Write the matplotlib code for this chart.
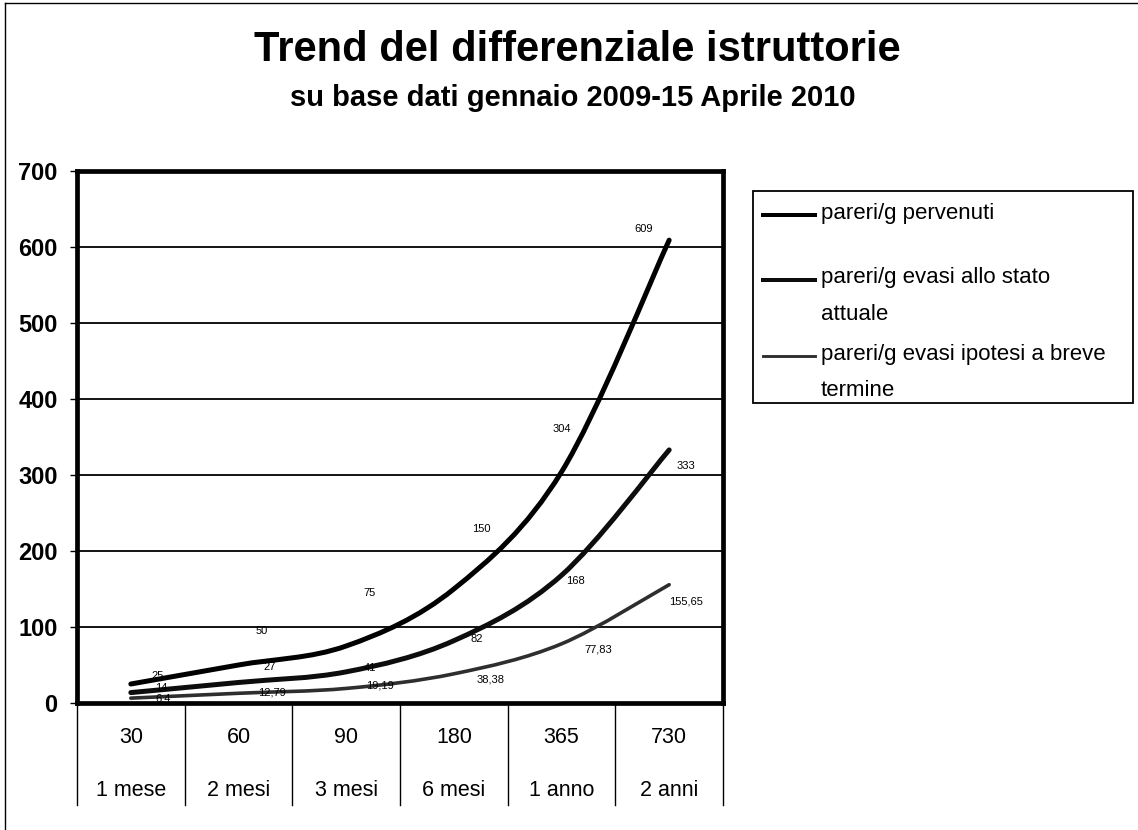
import numpy as np
import matplotlib
matplotlib.use("Agg")
import matplotlib.pyplot as plt
from matplotlib.path import Path
from matplotlib.patches import PathPatch, Rectangle
from matplotlib.lines import Line2D

plt.rcParams['font.family'] = ['Liberation Sans', 'DejaVu Sans']

# ---- data ----
days = ["30", "60", "90", "180", "365", "730"]
periods = ["1 mese", "2 mesi", "3 mesi", "6 mesi", "1 anno", "2 anni"]
series_names = [["pareri/g pervenuti"],
                ["pareri/g evasi allo stato", "attuale"],
                ["pareri/g evasi ipotesi a breve", "termine"]]
pervenuti = [25, 50, 75, 150, 304, 609]
evasi_attuale = [13.7, 27, 41, 82, 168, 333]
evasi_ipotesi = [6.4, 12.79, 19.19, 38.38, 77.83, 155.65]
labels_pervenuti = ["25", "50", "75", "150", "304", "609"]
labels_attuale = ["14", "27", "41", "82", "168", "333"]
labels_ipotesi = ["6,4", "12,79", "19,19", "38,38", "77,83", "155,65"]

# label placement (layout): offsets in (category units, value units)
off_perv = [(0.25, 10), (0.22, 45), (0.22, 70), (0.26, 79), (0.0, 56), (-0.24, 15)]
off_att = [(0.28, 6), (0.29, 21), (0.22, 5), (0.21, 2), (0.13, -8), (0.16, -21)]
off_ip = [(0.3, 0), (0.31, 1), (0.31, 4), (0.34, -8), (0.34, -8), (0.16, -22)]

W, H = 1138, 830
fig = plt.figure(figsize=(W / 100, H / 100), dpi=100)
fig.patch.set_facecolor('white')

L, R, T, B = 77, 723, 171, 703
ax = fig.add_axes([L / W, 1 - B / H, (R - L) / W, (B - T) / H])
ax.set_xlim(-0.5, 5.5)
ax.set_ylim(0, 700)
ax.set_yticks(range(0, 701, 100))
ax.set_yticklabels([str(v) for v in range(0, 701, 100)], fontsize=17, fontweight='bold')
ax.tick_params(axis='y', length=5, width=1, pad=9, direction='out')
ax.set_xticks([])
for s in ax.spines.values():
    s.set_linewidth(3.4)
    s.set_color('black')
ax.grid(axis='y', color='black', linewidth=1.3)
ax.set_axisbelow(True)


def smooth_path(xs, ys):
    pts = np.column_stack([xs, ys]).astype(float)
    n = len(pts)
    verts = [pts[0]]
    codes = [Path.MOVETO]
    for i in range(n - 1):
        p0 = pts[i - 1] if i > 0 else pts[i]
        p1 = pts[i]
        p2 = pts[i + 1]
        p3 = pts[i + 2] if i + 2 < n else pts[i + 1]
        c1 = p1 + (p2 - p0) / 6.0
        c2 = p2 - (p3 - p1) / 6.0
        verts += [c1, c2, p2]
        codes += [Path.CURVE4] * 3
    return Path(verts, codes)


xs = np.arange(len(days))
styles = [("black", 3.6), ("#0d0d0d", 3.6), ("#2e2e2e", 2.6)]
all_series = [pervenuti, evasi_attuale, evasi_ipotesi]
all_labels = [labels_pervenuti, labels_attuale, labels_ipotesi]
all_offs = [off_perv, off_att, off_ip]
for vals, (col, lw) in zip(all_series, styles):
    patch = PathPatch(smooth_path(xs, vals), facecolor='none', edgecolor=col,
                      linewidth=lw, capstyle='round', joinstyle='round', zorder=3)
    ax.add_patch(patch)

for vals, labs, offs in zip(all_series, all_labels, all_offs):
    for x, v, lab, (dx, dy) in zip(xs, vals, labs, offs):
        ax.text(x + dx, v + dy, lab, fontsize=8, ha='center', va='center',
                color='black', zorder=4)

# category table below the axis
for i in range(len(days) + 1):
    xf = (L + i * (R - L) / len(days)) / W
    fig.add_artist(Line2D([xf, xf], [1 - B / H, 1 - 805 / H], color='black',
                          linewidth=1.0))
for i, (d, p) in enumerate(zip(days, periods)):
    xc = (L + (i + 0.5) * (R - L) / len(days)) / W
    fig.text(xc, 1 - 737 / H, d, fontsize=15.5, ha='center', va='center')
    fig.text(xc, 1 - 790 / H, p, fontsize=15.5, ha='center', va='center')

# titles
fig.text(577 / W, 1 - 50 / H, "Trend del differenziale istruttorie",
         fontsize=30, fontweight='bold', ha='center', va='center')
fig.text(573 / W, 1 - 98 / H, "su base dati gennaio 2009-15 Aprile 2010",
         fontsize=21, fontweight='bold', ha='center', va='center')

# legend box
lx0, lx1, ly0, ly1 = 753, 1133, 191, 403
fig.add_artist(Rectangle((lx0 / W, 1 - ly1 / H), (lx1 - lx0) / W, (ly1 - ly0) / H,
                         facecolor='white', edgecolor='black', linewidth=1.3))
entry_y = [213, 278, 354]
line_pitch = 36
for lines, (col, lw), ey in zip(series_names, styles, entry_y):
    fig.add_artist(Line2D([763 / W, 815 / W], [1 - (ey + 2) / H] * 2, color=col,
                          linewidth=lw * 0.8))
    for j, txt in enumerate(lines):
        fig.text(821 / W, 1 - (ey + j * line_pitch) / H, txt, fontsize=16,
                 ha='left', va='center')

# outer border (left and top)
fig.add_artist(Line2D([5 / W, 5 / W], [0, 1 - 3 / H], color='black', linewidth=1))
fig.add_artist(Line2D([5 / W, 1], [1 - 3 / H, 1 - 3 / H], color='black', linewidth=1))

fig.savefig("out.png", dpi=100, facecolor='white')
